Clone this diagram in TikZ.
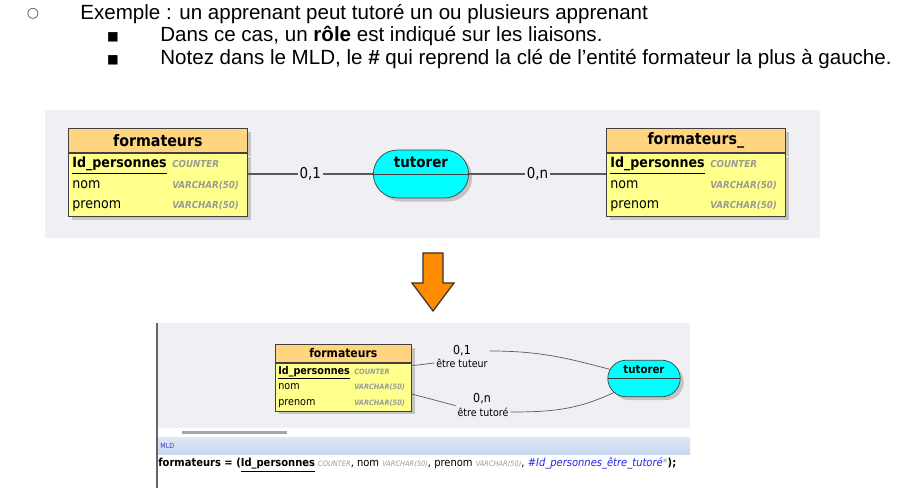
\documentclass[tikz,border=0pt]{standalone}
\usepackage{fontspec}
\setmainfont{Liberation Sans}
\newfontfamily\diagfont{DejaVu Sans Condensed}
\newfontfamily\symbfont{DejaVu Sans}
\usetikzlibrary{positioning,shapes.misc,shadows}
\definecolor{canvasgrey}{HTML}{F0F0F4}
\definecolor{headorange}{HTML}{FFD67F}
\definecolor{bodyyellow}{HTML}{FFFF8C}
\definecolor{assoccyan}{HTML}{00FFFF}
\definecolor{typegrey}{HTML}{9A9A9A}
\definecolor{linkgrey}{HTML}{5A5A5A}
\definecolor{arroworange}{HTML}{FF8C00}
\definecolor{mldband}{HTML}{C6D6F0}
\definecolor{fkblue}{HTML}{2424E0}

\newcommand{\typestyle}{\fontsize{5.5}{6}\selectfont\bfseries\itshape\color{typegrey}}
\newcommand{\attrline}[2]{\makebox[2cm][l]{#1}{\typestyle #2}}
\newcommand{\entite}[2]{%
  \node[entityhead, anchor=north west] (#1h) at (0,0) {#2};
  \node[entitybody, below=0pt of #1h] (#1b) {\attrline{\underline{\textbf{Id\_personnes}}}{COUNTER}\\
    \attrline{nom}{VARCHAR(50)}\\
    \attrline{prenom}{VARCHAR(50)}};
}
\newcommand{\assoc}[1]{%
  \node[assocshape] (#1) at (0,0) {};
  \draw[draw=black!75] (#1.west) -- (#1.east);
  \node[assoclabel] (#1l) at ([yshift=0.24cm]#1.center) {tutorer};
}

\tikzset{
  softshadow/.style={drop shadow={shadow xshift=2pt, shadow yshift=-2pt, fill=black!40, opacity=0.5}},
  entityhead/.style={draw=black!75, fill=headorange, softshadow, minimum width=3.58cm, minimum height=0.48cm, inner sep=0pt,
    font=\diagfont\fontsize{9}{10}\selectfont\bfseries},
  entitybody/.style={draw=black!75, fill=bodyyellow, softshadow, text width=3.42cm, inner xsep=0.08cm, inner ysep=0pt,
    minimum height=1.26cm, align=left, font=\diagfont\fontsize{8}{11.7}\selectfont},
  assocshape/.style={rounded rectangle, draw=black!75, fill=assoccyan, softshadow, minimum width=2.14cm, minimum height=0.96cm},
  assoclabel/.style={inner sep=0pt, font=\diagfont\fontsize{8.5}{9}\selectfont\bfseries},
  link/.style={draw=linkgrey, line width=0.6pt},
  card/.style={fill=canvasgrey, inner sep=1pt, font=\diagfont\fontsize{8.5}{9}\selectfont},
  cardsmall/.style={inner sep=1pt, font=\diagfont\fontsize{7}{8}\selectfont},
  rolesmall/.style={inner sep=1pt, font=\diagfont\fontsize{6}{7}\selectfont},
  toptext/.style={anchor=west, inner sep=0pt, font=\fontsize{11.7}{13}\selectfont}
}

\begin{document}
\begin{tikzpicture}[x=0.02cm, y=0.02cm]
  \useasboundingbox (0,0) rectangle (910,-496);

  % bullet text
  \node[font=\symbfont\fontsize{8}{8}\selectfont, text=black!70] (puce0) at (33,-14) {○};
  \node[toptext] (ligne1) at (80,-14) {Exemple : un apprenant peut tutoré un ou plusieurs apprenant};
  \node[font=\symbfont\fontsize{7}{7}\selectfont] (puce1) at (113,-37) {■};
  \node[toptext] (ligne2) at (160,-36) {Dans ce cas, un \textbf{rôle} est indiqué sur les liaisons.};
  \node[font=\symbfont\fontsize{7}{7}\selectfont] (puce2) at (113,-60) {■};
  \node[toptext] (ligne3) at (160,-59) {Notez dans le MLD, le \textbf{\#} qui reprend la clé de l’entité formateur la plus à gauche.};

  % MCD
  \fill[canvasgrey] (45,-110) rectangle (820,-238);
  \begin{scope}[shift={(68,-128)}]
    \entite{fa}{formateurs}
  \end{scope}
  \begin{scope}[shift={(606,-128)}]
    \entite{fb}{formateurs\_}
  \end{scope}
  \begin{scope}[shift={(421,-174)}]
    \assoc{tut}
  \end{scope}
  \draw[link] (fab.east |- tut.west) -- node[card] (c01) {0,1} (tut.west);
  \draw[link] (tut.east) -- node[card] (c0n) {0,n} (fbb.west |- tut.east);

  % fleche
  \draw[draw=black!80, fill=arroworange, line width=0.7pt, line join=miter]
    (423,-253) -- (443,-253) -- (443,-283) -- (454,-283) -- (433,-311) -- (412,-283) -- (423,-283) -- cycle;

  % capture MLD
  \fill[canvasgrey] (157,-323) rectangle (690,-428);
  \fill[black!35] (182,-431) rectangle (287,-434);
  \shade[top color=mldband!60, bottom color=mldband] (157,-438) rectangle (690,-455);
  \draw[black!60, line width=0.9pt] (157,-323) -- (157,-488);
  \node[anchor=west, inner sep=0pt, text=blue!50!gray, font=\diagfont\fontsize{4}{4}\selectfont] (mldtag) at (160,-446) {MLD};

  \begin{scope}[shift={(275,-344)}, scale=0.76, transform shape]
    \entite{fc}{formateurs}
  \end{scope}
  \begin{scope}[shift={(644,-378.5)}, scale=0.76, transform shape]
    \assoc{tutb}
  \end{scope}
  \node[cardsmall] (b01) at (462,-351) {0,1};
  \node[rolesmall] (btuteur) at (462,-363) {être tuteur};
  \node[cardsmall] (b0n) at (482,-399) {0,n};
  \node[rolesmall] (btutore) at (483,-412) {être tutoré};
  \draw[link, line width=0.4pt] ([yshift=-0.06cm]fcb.north east) -- (btuteur.west);
  \draw[link, line width=0.4pt] (btuteur.east |- b01) to[out=0, in=165] (tutb.165);
  \draw[link, line width=0.4pt] ([yshift=-0.14cm]fcb.east) -- (btutore.north west);
  \draw[link, line width=0.4pt] (btutore.east) to[out=0, in=205] (tutb.205);

  \node[anchor=west, inner sep=0pt, font=\diagfont\fontsize{6.3}{7}\selectfont] (mldligne) at (158,-465)
    {\textbf{formateurs = (\underline{Id\_personnes}} {\fontsize{4.2}{4}\selectfont\itshape\color{typegrey}COUNTER}, nom
     {\fontsize{4.2}{4}\selectfont\itshape\color{typegrey}VARCHAR(50)}, prenom
     {\fontsize{4.2}{4}\selectfont\itshape\color{typegrey}VARCHAR(50)}, {\itshape\color{fkblue}\#Id\_personnes\_être\_tutoré}{\color{typegrey}*}\textbf{);}};
\end{tikzpicture}
\end{document}
